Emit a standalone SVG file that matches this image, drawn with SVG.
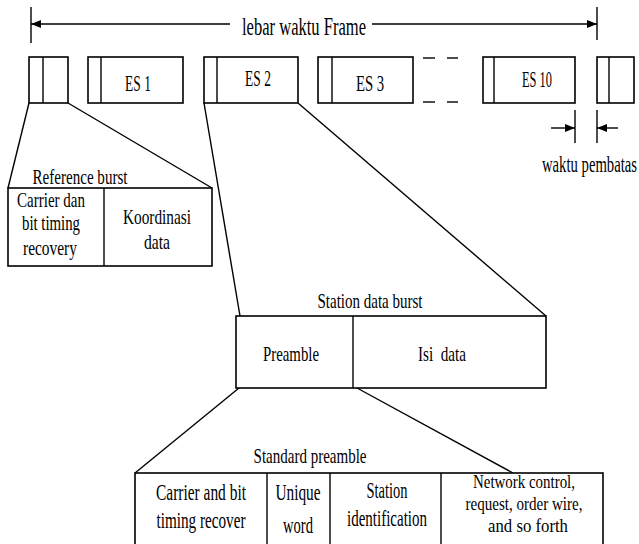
<svg xmlns="http://www.w3.org/2000/svg" width="639" height="544" viewBox="0 0 639 544">
<style>
.b{fill:#fff;stroke:#000;stroke-width:1.6}
.l{stroke:#000;stroke-width:1.4;fill:none}
text{font-family:"Liberation Serif","Times New Roman",serif;fill:#000;text-anchor:middle}
</style>
<defs>
<marker id="ah" viewBox="0 0 10 10" refX="10" refY="5" markerWidth="10" markerHeight="10" markerUnits="userSpaceOnUse" orient="auto"><path d="M0,1 L10,5 L0,9 Z" fill="#000"/></marker>
</defs>
<g id="connectors">
<line class="l" x1="31" y1="7" x2="31" y2="43"/>
<line class="l" x1="597" y1="7" x2="597" y2="40"/>
<line class="l" x1="230" y1="24" x2="31" y2="24" marker-end="url(#ah)"/>
<line class="l" x1="372" y1="24" x2="597" y2="24" marker-end="url(#ah)"/>
<line class="l" x1="423" y1="58" x2="435" y2="58"/>
<line class="l" x1="447" y1="58" x2="458" y2="58"/>
<line class="l" x1="423" y1="102" x2="435" y2="102"/>
<line class="l" x1="447" y1="102" x2="458" y2="102"/>
<line class="l" x1="575" y1="110" x2="575" y2="143"/>
<line class="l" x1="597" y1="110" x2="597" y2="143"/>
<line class="l" x1="551" y1="128" x2="575" y2="128" marker-end="url(#ah)"/>
<line class="l" x1="618" y1="128" x2="597" y2="128" marker-end="url(#ah)"/>
<line class="l" x1="29" y1="103" x2="8" y2="188"/>
<line class="l" x1="68" y1="103" x2="212" y2="188"/>
<line class="l" x1="204" y1="103" x2="240" y2="316"/>
<line class="l" x1="298" y1="103" x2="546" y2="316"/>
<line class="l" x1="239" y1="388" x2="135" y2="473"/>
<line class="l" x1="357" y1="388" x2="513" y2="473"/>
</g>
<text transform="translate(304,35) scale(0.661,1)" font-size="25" textLength="187.6" lengthAdjust="spacingAndGlyphs">lebar waktu Frame</text>
<g id="slot0"><rect class="b" x="29" y="57" width="39" height="46"/><line class="l" x1="43" y1="57" x2="43" y2="103"/></g>
<g id="es1"><rect class="b" x="88" y="57" width="95" height="46"/><line class="l" x1="101" y1="57" x2="101" y2="103"/><text transform="translate(138,91) scale(0.6,1)" font-size="23" textLength="43" lengthAdjust="spacingAndGlyphs">ES 1</text></g>
<g id="es2"><rect class="b" x="204" y="57" width="94" height="46"/><line class="l" x1="217" y1="57" x2="217" y2="103"/><text transform="translate(258,86) scale(0.6,1)" font-size="23" textLength="43" lengthAdjust="spacingAndGlyphs">ES 2</text></g>
<g id="es3"><rect class="b" x="318" y="57" width="95" height="46"/><line class="l" x1="332" y1="57" x2="332" y2="103"/><text transform="translate(370,91) scale(0.6,1)" font-size="23" textLength="47" lengthAdjust="spacingAndGlyphs">ES 3</text></g>
<g id="es10"><rect class="b" x="483" y="57" width="92" height="46"/><line class="l" x1="494" y1="57" x2="494" y2="103"/><text transform="translate(537,87) scale(0.6,1)" font-size="23" textLength="50" lengthAdjust="spacingAndGlyphs">ES 10</text></g>
<g id="slotN"><rect class="b" x="597" y="57" width="37" height="46"/><line class="l" x1="609" y1="57" x2="609" y2="103"/></g>
<text transform="translate(637,172) scale(0.638,1)" font-size="23" textLength="148.9" lengthAdjust="spacingAndGlyphs" style="text-anchor:end">waktu pembatas</text>
<g id="reference-burst">
<text transform="translate(80,184) scale(0.754,1)" font-size="20" textLength="126" lengthAdjust="spacingAndGlyphs">Reference burst</text>
<rect class="b" x="8" y="188" width="204" height="78"/>
<line class="l" x1="104" y1="188" x2="104" y2="266"/>
<text transform="translate(51,207) scale(0.751,1)" font-size="20" textLength="90.5" lengthAdjust="spacingAndGlyphs">Carrier dan</text>
<text transform="translate(51,230) scale(0.74,1)" font-size="20" textLength="78.4" lengthAdjust="spacingAndGlyphs">bit timing</text>
<text transform="translate(50,255) scale(0.771,1)" font-size="20" textLength="70" lengthAdjust="spacingAndGlyphs">recovery</text>
<text transform="translate(157,224) scale(0.729,1)" font-size="21" textLength="93.3" lengthAdjust="spacingAndGlyphs">Koordinasi</text>
<text transform="translate(157,249) scale(0.743,1)" font-size="21" textLength="35" lengthAdjust="spacingAndGlyphs">data</text>
</g>
<g id="station-data-burst">
<text transform="translate(370,308) scale(0.714,1)" font-size="21" textLength="147" lengthAdjust="spacingAndGlyphs">Station data burst</text>
<rect class="b" x="236" y="316" width="310" height="72"/>
<line class="l" x1="353" y1="316" x2="353" y2="388"/>
<text transform="translate(291,361) scale(0.674,1)" font-size="22" textLength="83.1" lengthAdjust="spacingAndGlyphs">Preamble</text>
<text transform="translate(442,361) scale(0.689,1)" font-size="22" textLength="69.7" lengthAdjust="spacingAndGlyphs">Isi&#160; data</text>
</g>
<g id="standard-preamble">
<text transform="translate(310,463) scale(0.682,1)" font-size="22" textLength="165.6" lengthAdjust="spacingAndGlyphs">Standard preamble</text>
<rect class="b" x="135" y="473" width="468" height="80"/>
<line class="l" x1="267" y1="473" x2="267" y2="553"/>
<line class="l" x1="330" y1="473" x2="330" y2="553"/>
<line class="l" x1="441" y1="473" x2="441" y2="553"/>
<text transform="translate(201,500) scale(0.671,1)" font-size="23" textLength="134.1" lengthAdjust="spacingAndGlyphs">Carrier and bit</text>
<text transform="translate(201,528) scale(0.66,1)" font-size="23" textLength="134.8" lengthAdjust="spacingAndGlyphs">timing recover</text>
<text transform="translate(298,500) scale(0.665,1)" font-size="23" textLength="67.7" lengthAdjust="spacingAndGlyphs">Unique</text>
<text transform="translate(298,533) scale(0.634,1)" font-size="23" textLength="47.3" lengthAdjust="spacingAndGlyphs">word</text>
<text transform="translate(387,498) scale(0.629,1)" font-size="23" textLength="65.2" lengthAdjust="spacingAndGlyphs">Station</text>
<text transform="translate(387,526) scale(0.652,1)" font-size="23" textLength="122.7" lengthAdjust="spacingAndGlyphs">identification</text>
<text transform="translate(524,488) scale(0.829,1)" font-size="18" textLength="123" lengthAdjust="spacingAndGlyphs">Network control,</text>
<text transform="translate(524,510) scale(0.836,1)" font-size="18" textLength="140" lengthAdjust="spacingAndGlyphs">request, order wire,</text>
<text transform="translate(528,532) scale(0.93,1)" font-size="18" textLength="86" lengthAdjust="spacingAndGlyphs">and so forth</text>
</g>
</svg>
